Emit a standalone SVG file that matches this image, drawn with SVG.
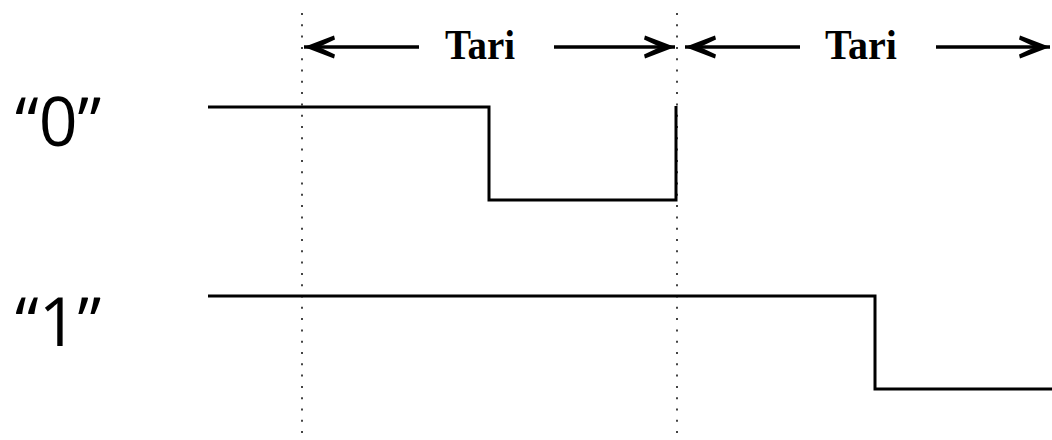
<svg xmlns="http://www.w3.org/2000/svg" width="1052" height="440" viewBox="0 0 1052 440">
  <style>
    .grid { stroke: #444; stroke-width: 2; stroke-dasharray: 2 9.3; fill: none; }
    .wave { stroke: #000; stroke-width: 3; fill: none; stroke-linejoin: miter; stroke-linecap: butt; }
    .dim { stroke: #000; stroke-width: 3.5; fill: none; }
    .tari { font-family: "Liberation Serif", "Times New Roman", serif; font-weight: bold; font-size: 43px; fill: #000; }
    .bit { font-family: "Open Sans", "Noto Sans", sans-serif; font-size: 68px; fill: #000; }
  </style>
  <defs>
    <marker id="head" viewBox="0 0 32 24" refX="31" refY="12" markerWidth="32" markerHeight="24" markerUnits="userSpaceOnUse" orient="auto">
      <path d="M31,12 L1,0.5 L0,4.5 L16,12 L0,19.5 L1,23.5 Z" fill="#000"/>
    </marker>
  </defs>
  <rect width="1052" height="440" fill="#fff"/>

  <!-- bit-period boundaries -->
  <g id="boundaries">
    <line class="grid" x1="302" y1="13" x2="302" y2="440"/>
    <line class="grid" x1="677" y1="13" x2="677" y2="440"/>
  </g>

  <!-- Tari dimension arrows -->
  <g id="connectors">
    <line class="dim" x1="419" y1="47" x2="304" y2="47" marker-end="url(#head)"/>
    <line class="dim" x1="554" y1="47" x2="675" y2="47" marker-end="url(#head)"/>
    <line class="dim" x1="800" y1="47" x2="685" y2="47" marker-end="url(#head)"/>
    <line class="dim" x1="936" y1="47" x2="1050" y2="47" marker-end="url(#head)"/>
  </g>

  <g id="tari-1">
    <text class="tari" x="445" y="59" textLength="70" lengthAdjust="spacingAndGlyphs">Tari</text>
  </g>
  <g id="tari-2">
    <text class="tari" x="825" y="59" textLength="72" lengthAdjust="spacingAndGlyphs">Tari</text>
  </g>

  <!-- data-0 symbol -->
  <g id="symbol-0">
    <text class="bit" x="15" y="146">“0”</text>
    <path class="wave" d="M208,107 H489 V200 H676 V106"/>
  </g>

  <!-- data-1 symbol -->
  <g id="symbol-1">
    <text class="bit" x="15" y="346">“1”</text>
    <path class="wave" d="M208,296 H875 V389 H1052"/>
  </g>
</svg>
